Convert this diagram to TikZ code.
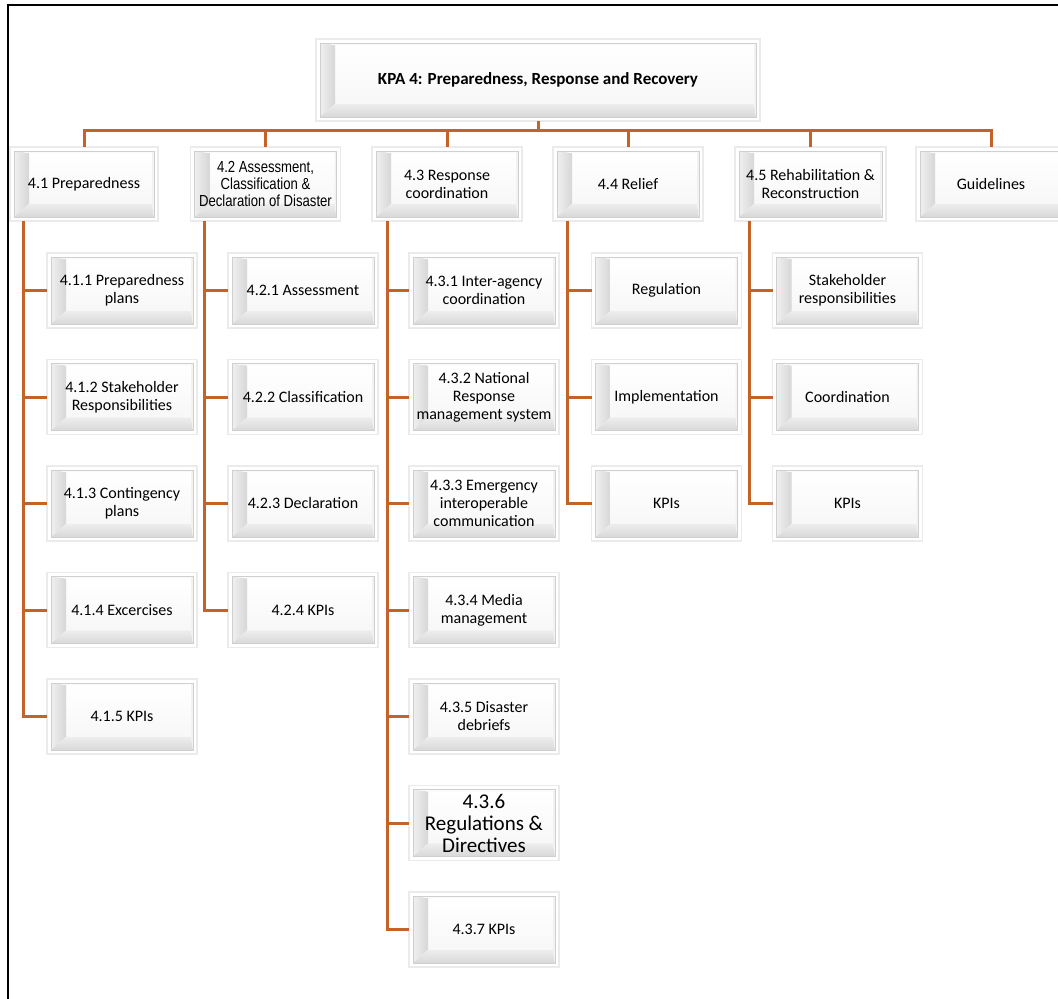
\documentclass[tikz,border=0pt]{standalone}
\usepackage{fontspec}
\setmainfont{Carlito}
\newfontfamily\narrowfont[FakeStretch=0.82]{Liberation Sans}
\usetikzlibrary{calc}
\definecolor{linkcol}{RGB}{197,98,40}

\begin{document}
\begin{tikzpicture}[x=1pt,y=-1pt,
  bevelbox/.style={draw=gray!16, line width=1.6pt, fill=white, outer sep=0pt,
    inner sep=2pt, align=center, minimum width=150pt, minimum height=75pt,
    font=\fontsize{16}{18}\selectfont,
    path picture={
      \coordinate (bvA) at ([shift={(4pt,4pt)}]path picture bounding box.south west);
      \coordinate (bvB) at ([shift={(-4pt,-4pt)}]path picture bounding box.north east);
      \coordinate (bvC) at ([shift={(15pt,13pt)}]bvA);
      \coordinate (bvD) at ([shift={(-2pt,-2pt)}]bvB);
      % face
      \shade[top color=white, bottom color=gray!6] (bvC) rectangle (bvD);
      % left slope
      \shade[left color=gray!12, right color=gray!32]
        (bvA) -- (bvA|-bvB) -- (bvC|-bvD) -- (bvC) -- cycle;
      % bottom slope
      \shade[top color=gray!14, bottom color=gray!30]
        (bvA) -- (bvC) -- (bvD|-bvC) -- (bvB|-bvA) -- cycle;
      % top and right rims
      \fill[gray!4] (bvA|-bvB) -- (bvB) -- (bvD) -- (bvC|-bvD) -- cycle;
      \fill[gray!10] (bvB) -- (bvB|-bvA) -- (bvD|-bvC) -- (bvD) -- cycle;
      \draw[gray!38, line width=0.7pt] (bvA) rectangle (bvB);
    }},
  headbox/.style={bevelbox, minimum height=74pt},
  narrowtext/.style={font=\narrowfont\fontsize{16}{17}\selectfont},
  link/.style={draw=linkcol, line width=3pt}]

\useasboundingbox (0,0) rectangle (1058,999);
\clip (0,0) rectangle (1058,999);

% page frame
\draw[line width=2pt] (8,999) -- (8,5) -- (1058,5);

% root
\node[bevelbox, minimum width=444pt, minimum height=82pt,
  font=\bfseries\fontsize{17}{20}\selectfont] (kpa) at (538,80)
  {KPA 4: Preparedness, Response and Recovery};

% first level
\node[headbox, minimum width=148pt] (p41) at (84,184) {4.1 Preparedness};
\node[headbox, narrowtext] (p42) at (265.5,184)
  {4.2 Assessment,\\Classification \&\\Declaration of Disaster};
\node[headbox] (p43) at (447,184) {4.3 Response\\coordination};
\node[headbox] (p44) at (628,184) {4.4 Relief};
\node[headbox, minimum width=151pt] (p45) at (810.5,184) {4.5 Rehabilitation \&\\Reconstruction};
\node[headbox] (pg) at (991,184) {Guidelines};

\foreach \n in {p41,p42,p43,p44,p45,pg}
  \draw[link] (kpa.south) -- ++(0,9) -| (\n.north);

% 4.1 column
\node[bevelbox] (c411) at (122,290.5) {4.1.1 Preparedness\\plans};
\node[bevelbox] (c412) at (122,397) {4.1.2 Stakeholder\\Responsibilities};
\node[bevelbox] (c413) at (122,503.5) {4.1.3 Contingency\\plans};
\node[bevelbox] (c414) at (122,610) {4.1.4 Excercises};
\node[bevelbox] (c415) at (122,716.5) {4.1.5 KPIs};

% 4.2 column
\node[bevelbox] (c421) at (303,290.5) {4.2.1 Assessment};
\node[bevelbox] (c422) at (303,397) {4.2.2 Classification};
\node[bevelbox] (c423) at (303,503.5) {4.2.3 Declaration};
\node[bevelbox] (c424) at (303,610) {4.2.4 KPIs};

% 4.3 column
\node[bevelbox] (c431) at (484,290.5) {4.3.1 Inter-agency\\coordination};
\node[bevelbox] (c432) at (484,397) {4.3.2 National\\Response\\management system};
\node[bevelbox] (c433) at (484,503.5) {4.3.3 Emergency\\interoperable\\communication};
\node[bevelbox] (c434) at (484,610) {4.3.4 Media\\management};
\node[bevelbox] (c435) at (484,716.5) {4.3.5 Disaster\\debriefs};
\node[bevelbox, font=\fontsize{21}{22}\selectfont] (c436) at (484,823) {4.3.6\\Regulations \&\\Directives};
\node[bevelbox] (c437) at (484,929.5) {4.3.7 KPIs};

% 4.4 column
\node[bevelbox] (c441) at (666.5,290.5) {Regulation};
\node[bevelbox] (c442) at (666.5,397) {Implementation};
\node[bevelbox] (c443) at (666.5,503.5) {KPIs};

% 4.5 column
\node[bevelbox] (c451) at (847.5,290.5) {Stakeholder\\responsibilities};
\node[bevelbox] (c452) at (847.5,397) {Coordination};
\node[bevelbox] (c453) at (847.5,503.5) {KPIs};

% spines and stubs
\foreach \c in {c411,c412,c413,c414,c415}
  \draw[link] ([xshift=13pt]p41.south west) |- (\c.west);
\foreach \c in {c421,c422,c423,c424}
  \draw[link] ([xshift=13.5pt]p42.south west) |- (\c.west);
\foreach \c in {c431,c432,c433,c434,c435,c436,c437}
  \draw[link] ([xshift=15pt]p43.south west) |- (\c.west);
\foreach \c in {c441,c442,c443}
  \draw[link] ([xshift=14pt]p44.south west) |- (\c.west);
\foreach \c in {c451,c452,c453}
  \draw[link] ([xshift=14pt]p45.south west) |- (\c.west);

\end{tikzpicture}
\end{document}
